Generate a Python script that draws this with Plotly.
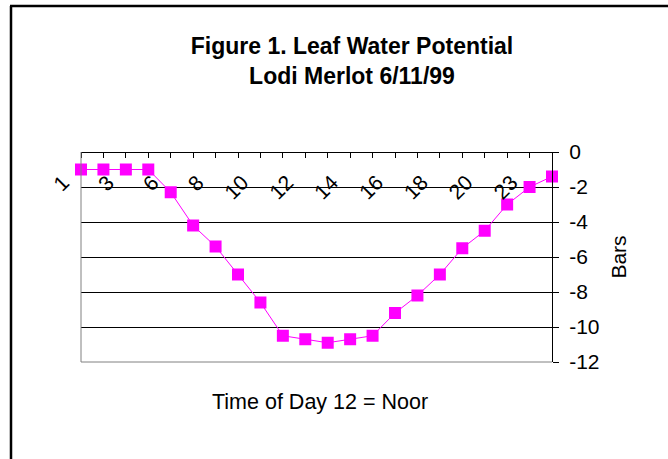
import plotly.graph_objects as go

# Data
hours = ["1", "2", "3", "4", "6", "7", "8", "9", "10", "11", "12", "13", "14",
         "15", "16", "17", "18", "19", "20", "22", "23", "24"]
bars = [-1.0, -1.0, -1.0, -1.0, -2.3, -4.2, -5.4, -7.0, -8.6, -10.5, -10.7, -10.9,
        -10.7, -10.5, -9.2, -8.2, -7.0, -5.5, -4.5, -3.0, -2.0, -1.4]
tick_labels = [h if i % 2 == 0 else "" for i, h in enumerate(hours)]
y_ticks = [0, -2, -4, -6, -8, -10, -12]
y_tick_text = ["0", "-2", "-4", "-6", "-8", "-10", "-12"]

FONT = "Arial, Liberation Sans, sans-serif"
W, H = 668, 459
L, T = 81, 152
R = W - L - 471
B = H - T - 210
pw, ph = W - L - R, H - T - B

def px(x):
    return (x - L) / pw

def py(y):
    return (H - B - y) / ph

fig = go.Figure()
fig.add_trace(go.Scatter(
    x=hours, y=bars, mode="lines+markers",
    line=dict(color="#FF00FF", width=1),
    marker=dict(symbol="square", size=12, color="#FF00FF"),
    showlegend=False, cliponaxis=False,
))

fig.update_layout(
    width=W, height=H,
    margin=dict(l=L, r=R, t=T, b=B),
    paper_bgcolor="white", plot_bgcolor="white",
    font=dict(family=FONT, color="black", size=21),
    title=dict(
        text="<b>Figure 1. Leaf Water Potential<br>Lodi Merlot 6/11/99</b>",
        x=px(352), xanchor="center", xref="paper",
        y=1 - 54 / H, yanchor="top", yref="container",
        font=dict(family=FONT, size=23, color="black"),
    ),
    xaxis=dict(
        type="category", side="bottom", anchor="free", position=1,
        range=[0, len(hours) - 1],
        tickmode="array", tickvals=hours, ticktext=tick_labels,
        tickangle=-45, ticklabelshift=-18, ticklabelstandoff=4,
        ticks="outside", ticklen=5, tickcolor="black",
        showline=True, linecolor="black", linewidth=1,
        showgrid=False, zeroline=False,
        tickfont=dict(family=FONT, size=21),
    ),
    yaxis=dict(
        side="right", range=[-12, 0], domain=[0, 1],
        tickmode="array", tickvals=y_ticks, ticktext=y_tick_text,
        ticks="outside", ticklen=6, tickcolor="black",
        showline=True, linecolor="black", linewidth=1,
        showgrid=True, gridcolor="black", gridwidth=1,
        zeroline=False, ticklabelstandoff=6,
        tickfont=dict(family=FONT, size=21),
        title=dict(text="Bars", font=dict(family=FONT, size=21), standoff=12),
    ),
    shapes=[
        dict(type="line", xref="paper", yref="paper",
             x0=px(11), x1=px(11), y0=py(6), y1=py(470),
             line=dict(color="black", width=2.5), layer="above"),
        dict(type="line", xref="paper", yref="paper",
             x0=px(10), x1=px(680), y0=py(6), y1=py(6),
             line=dict(color="black", width=2.5), layer="above"),
        dict(type="line", xref="paper", yref="paper",
             x0=0, x1=0, y0=0, y1=1, line=dict(color="#808080", width=1), layer="above"),
        dict(type="line", xref="paper", yref="paper",
             x0=0, x1=1, y0=0, y1=0, line=dict(color="#808080", width=1), layer="above"),
    ],
    annotations=[
        dict(text="Time of Day 12 = Noor", xref="paper", yref="paper",
             x=px(320), y=py(402), xanchor="center", yanchor="middle",
             showarrow=False, font=dict(family=FONT, size=21.5)),
    ],
)

fig.write_html("out.html", config={"displayModeBar": False},
               post_script="document.body.style.margin='0';")
